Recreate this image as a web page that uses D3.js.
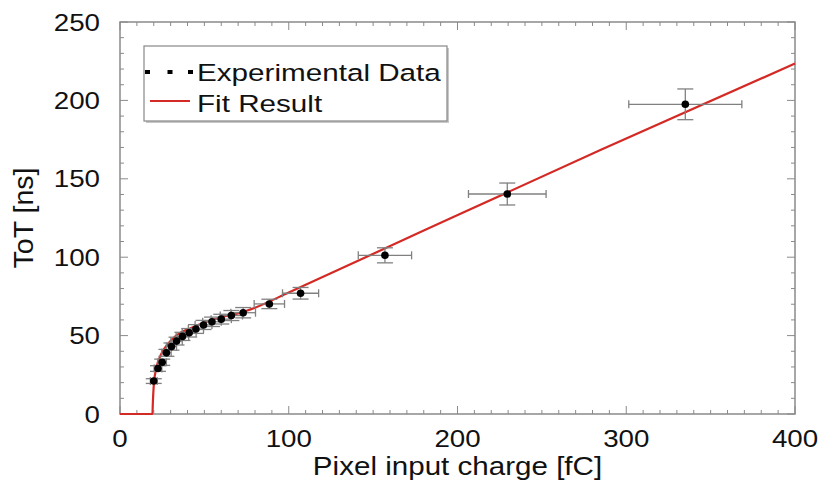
<!DOCTYPE html>
<html>
<head>
<meta charset="utf-8">
<script src="https://cdn.jsdelivr.net/npm/d3@7"></script>
<style>
  body { margin: 0; background: #fff; }
  text { font-family: "Liberation Sans", Arial, sans-serif; fill: #111; }
</style>
</head>
<body>
<div id="chart"></div>
<script>
var width = 823,
    height = 484;

var margin = {left: 120, right: 28, top: 22, bottom: 70};

// measured points
var charge = [20, 22.5, 25, 27.5, 30.5, 33.5, 37, 41, 45, 49.5, 54.5, 60, 66, 73, 88.5, 107, 157, 229.5, 335];
var tot = [21, 29, 33, 39, 43, 46.5, 49.5, 51.8, 54.2, 56.8, 58.8, 60.5, 62.8, 64.6, 70.2, 77, 101.2, 140.3, 197.5];
var chargeErr = [2, 2.3, 2.5, 2.8, 3, 3.4, 3.7, 4.1, 4.5, 5, 5.5, 6, 6.6, 7.3, 9, 10.7, 15.8, 23, 33.5];
var totErr = [1.5, 1.8, 2, 2.2, 2.3, 2.5, 2.6, 2.7, 2.8, 2.9, 3, 3.1, 3.2, 3.3, 3, 3.7, 4.8, 7, 9.8];

// fit curve
var fitCharge = [0, 19.2, 19.5, 20.1, 21.7, 24.6, 28.6, 33.6, 41.5, 51.4, 61.2, 71.1, 80, 100, 180, 285, 400];
var fitTot = [0, 0, 8, 19.5, 30, 38.6, 45, 50.3, 54.6, 58.8, 62, 64.5, 67.8, 77.5, 117, 168.5, 223.5];

var xTicks = [0, 100, 200, 300, 400];
var yTicks = [0, 50, 100, 150, 200, 250];

var legendLabels = ["Experimental Data", "Fit Result"];

var x = d3.scaleLinear().domain([0, 400]).range([margin.left, width - margin.right]);
var y = d3.scaleLinear().domain([0, 250]).range([height - margin.bottom, margin.top]);

var svg = d3.select("#chart").append("svg")
    .attr("width", width)
    .attr("height", height);

var frameColor = "#8a8a8a";
// the source text is a little wider than it is tall
var stretch = 1.18;

// frame
svg.append("rect")
    .attr("x", x(0)).attr("y", y(250))
    .attr("width", x(400) - x(0)).attr("height", y(0) - y(250))
    .attr("fill", "none").attr("stroke", frameColor).attr("stroke-width", 1.5);

// inner ticks on all four sides
var minorX = d3.range(0, 401, 10),
    minorY = d3.range(0, 251, 10);

function tickLen(v, step) { return v % step === 0 ? 8 : 4; }

svg.append("g").selectAll("line.xb")
    .data(minorX).enter().append("line")
    .attr("x1", function(d) { return x(d); }).attr("x2", function(d) { return x(d); })
    .attr("y1", y(0)).attr("y2", function(d) { return y(0) - tickLen(d, 100); })
    .attr("stroke", frameColor);
svg.append("g").selectAll("line.xt")
    .data(minorX).enter().append("line")
    .attr("x1", function(d) { return x(d); }).attr("x2", function(d) { return x(d); })
    .attr("y1", y(250)).attr("y2", function(d) { return y(250) + tickLen(d, 100); })
    .attr("stroke", frameColor);
svg.append("g").selectAll("line.yl")
    .data(minorY).enter().append("line")
    .attr("y1", function(d) { return y(d); }).attr("y2", function(d) { return y(d); })
    .attr("x1", x(0)).attr("x2", function(d) { return x(0) + tickLen(d, 50); })
    .attr("stroke", frameColor);
svg.append("g").selectAll("line.yr")
    .data(minorY).enter().append("line")
    .attr("y1", function(d) { return y(d); }).attr("y2", function(d) { return y(d); })
    .attr("x1", x(400)).attr("x2", function(d) { return x(400) - tickLen(d, 50); })
    .attr("stroke", frameColor);

// tick labels
svg.append("g").selectAll("text")
    .data(xTicks).enter().append("text")
    .attr("transform", function(d) {
      return "translate(" + x(d) + "," + (y(0) + 33) + ") scale(" + stretch + ",1)";
    })
    .attr("text-anchor", "middle")
    .style("font-size", "23.5px")
    .text(function(d) { return d; });

svg.append("g").selectAll("text")
    .data(yTicks).enter().append("text")
    .attr("transform", function(d) {
      return "translate(" + (x(0) - 20) + "," + (y(d) + 8.5) + ") scale(" + stretch + ",1)";
    })
    .attr("text-anchor", "end")
    .style("font-size", "23.5px")
    .text(function(d) { return d; });

// axis titles
svg.append("text")
    .attr("transform", "translate(" + ((x(0) + x(400)) / 2) + ",475) scale(1.16,1)")
    .attr("text-anchor", "middle")
    .style("font-size", "25.5px")
    .text("Pixel input charge [fC]");

svg.append("text")
    .attr("transform", "translate(33,218) rotate(-90)")
    .attr("text-anchor", "middle")
    .style("font-size", "28.5px")
    .text("ToT [ns]");

// fit curve
var fitData = fitCharge.map(function(d, i) { return [d, fitTot[i]]; });
var line = d3.line()
    .x(function(d) { return x(d[0]); })
    .y(function(d) { return y(d[1]); })
    .curve(d3.curveMonotoneX);

svg.append("path")
    .datum(fitData)
    .attr("d", line)
    .attr("fill", "none")
    .attr("stroke", "#d42a25")
    .attr("stroke-width", 2.2);

// error bars + points
var pts = charge.map(function(d, i) {
  return {x: d, y: tot[i], ex: chargeErr[i], ey: totErr[i]};
});

var errColor = "#808080";
var eg = svg.append("g").attr("stroke", errColor).attr("stroke-width", 1.3);

pts.forEach(function(p) {
  var cx = x(p.x), cy = y(p.y);
  var x0 = x(p.x - p.ex), x1 = x(p.x + p.ex),
      y0 = y(p.y - p.ey), y1 = y(p.y + p.ey);
  eg.append("line").attr("x1", x0).attr("x2", x1).attr("y1", cy).attr("y2", cy);
  eg.append("line").attr("x1", cx).attr("x2", cx).attr("y1", y0).attr("y2", y1);
  eg.append("line").attr("x1", x0).attr("x2", x0).attr("y1", cy - 4).attr("y2", cy + 4);
  eg.append("line").attr("x1", x1).attr("x2", x1).attr("y1", cy - 4).attr("y2", cy + 4);
  eg.append("line").attr("x1", cx - 8).attr("x2", cx + 8).attr("y1", y0).attr("y2", y0);
  eg.append("line").attr("x1", cx - 8).attr("x2", cx + 8).attr("y1", y1).attr("y2", y1);
});

svg.append("g").selectAll("circle")
    .data(pts).enter().append("circle")
    .attr("cx", function(d) { return x(d.x); })
    .attr("cy", function(d) { return y(d.y); })
    .attr("r", 3.8)
    .attr("fill", "#000");

// legend
var lg = svg.append("g");
lg.append("rect")
    .attr("x", 146).attr("y", 48).attr("width", 303).attr("height", 75)
    .attr("fill", "#c8c8c8");
lg.append("rect")
    .attr("x", 144).attr("y", 46).attr("width", 303).attr("height", 75)
    .attr("fill", "#fff").attr("stroke", "#888").attr("stroke-width", 1.2);

lg.selectAll("rect.dot")
    .data([147.5, 170, 190.5]).enter().append("rect")
    .attr("class", "dot")
    .attr("x", function(d) { return d - 2.5; })
    .attr("y", 70)
    .attr("width", 5).attr("height", 4)
    .attr("fill", "#000");

lg.append("line")
    .attr("x1", 150).attr("x2", 190)
    .attr("y1", 101).attr("y2", 101)
    .attr("stroke", "#d42a25").attr("stroke-width", 2);

lg.selectAll("text")
    .data(legendLabels).enter().append("text")
    .attr("transform", function(d, i) {
      return "translate(197," + (81 + i * 30.5) + ") scale(1.21,1)";
    })
    .style("font-size", "24.5px")
    .text(function(d) { return d; });
</script>
</body>
</html>
